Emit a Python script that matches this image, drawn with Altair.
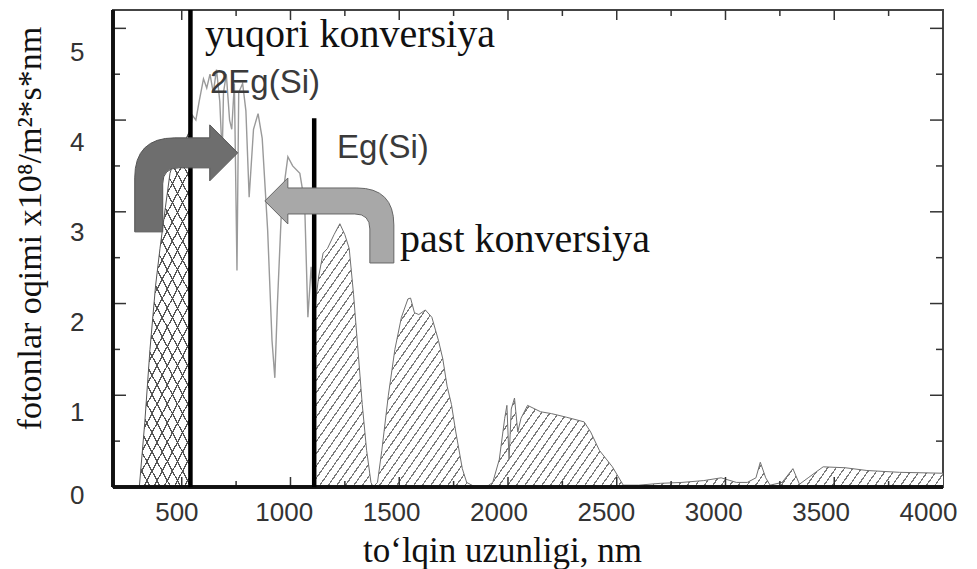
import math
import altair as alt
import pandas as pd

# ---------------- data ----------------
# hatched UV/blue part below 2Eg(Si)
uv_nm = [305, 330, 354, 380, 400, 425, 446, 470, 500, 520, 540]
uv_val = [0.0, 0.7, 1.5, 2.2, 2.6, 3.05, 3.42, 3.6, 3.7, 3.8, 3.9]

# unfilled visible / near-IR part between 2Eg(Si) and Eg(Si)
vis_nm = [540, 550, 565, 580, 600, 615, 630, 645, 660, 675, 686, 692, 705, 720, 730,
          742, 754, 762, 780, 795, 810, 830, 851, 870, 895, 915, 928, 940, 960, 988,
          1010, 1043, 1065, 1080, 1095, 1109]
vis_val = [3.9, 4.05, 4.0, 4.2, 4.45, 4.35, 4.5, 4.3, 4.55, 4.2, 3.6, 4.3, 4.5, 4.0, 3.9,
           4.4, 2.36, 4.3, 4.4, 4.1, 3.16, 3.9, 4.07, 3.8, 2.8, 1.6, 1.19, 2.0, 3.1, 3.6,
           3.5, 3.42, 3.1, 1.85, 2.4, 1.9]

# hatched IR part beyond Eg(Si)
ir_nm = [1109, 1130, 1150, 1170, 1200, 1227, 1250, 1270, 1290, 1310, 1330, 1350, 1370, 1380,
         1400, 1420, 1450, 1480, 1510, 1540, 1552, 1570, 1590, 1620, 1650, 1680, 1700, 1720,
         1740, 1760, 1790, 1810, 1850, 1900, 1930, 1960, 1985, 1995, 2005, 2015, 2030, 2045,
         2060, 2090, 2150, 2200, 2270, 2350, 2380, 2420, 2480, 2530, 2600, 2700, 2800, 2900,
         2980, 3050, 3100, 3140, 3160, 3185, 3205, 3260, 3310, 3340, 3380, 3449, 3550, 3650,
         3800, 4000]
ir_val = [1.9, 2.3, 2.55, 2.6, 2.75, 2.87, 2.75, 2.6, 2.1, 1.5, 0.9, 0.4, 0.05, 0.0,
          0.05, 0.4, 1.0, 1.5, 1.85, 2.05, 2.06, 1.9, 1.88, 1.93, 1.85, 1.6, 1.4, 1.1,
          0.9, 0.6, 0.2, 0.05, 0.0, 0.0, 0.05, 0.3, 0.75, 0.89, 0.3, 0.85, 0.97, 0.6,
          0.75, 0.89, 0.82, 0.8, 0.76, 0.71, 0.6, 0.40, 0.22, 0.02, 0.02, 0.04, 0.05, 0.07,
          0.1, 0.05, 0.05, 0.1, 0.27, 0.1, 0.02, 0.05, 0.2, 0.03, 0.1, 0.22, 0.21, 0.18,
          0.16, 0.15]

# band-gap marker lines: 2Eg(Si) and Eg(Si)
vline_nm = [540, 1109]
vline_top = [5.2, 4.02]

# annotations
serif_labels = ["yuqori konversiya", "past konversiya"]
serif_nm = [607, 1504]
serif_val = [4.80, 2.56]
sans_labels = ["2Eg(Si)", "Eg(Si)"]
sans_nm = [630, 1214]
sans_val = [4.30, 3.59]
arrow_nm = [523, 1181]
arrow_val = [3.37, 2.90]

# axes
x_labels = [500, 1000, 1500, 2000, 2500, 3000, 3500, 4000]
x_minor = [750, 1250, 1750, 2250, 2750, 3250, 3750]
x_major_ticks = [500, 1000, 1500, 2000, 2500, 3000, 3500]
y_labels = [0, 1, 2, 3, 4, 5]
y_major_ticks = [1, 2, 3, 4, 5]
y_minor = [0.5, 1.5, 2.5, 3.5, 4.5]

X_MIN, X_MAX = 184, 4000
Y_MAX = 5.2
W_PLOT, H_PLOT = 830, 477
PXN = W_PLOT / (X_MAX - X_MIN)
PXV = H_PLOT / Y_MAX

# ---------------- helpers ----------------
xs = alt.Scale(domain=[X_MIN, X_MAX], nice=False, zero=False)
ys = alt.Scale(domain=[0, Y_MAX], nice=False)

x_axis = alt.Axis(values=x_labels, format="d", title="to\u2018lqin uzunligi, nm",
                  titleFont="Liberation Serif", titleFontSize=35, titleFontWeight="normal",
                  titleColor="#111111", titleX=389, titleY=74, titleAlign="center",
                  titleBaseline="alphabetic", labelFont="Liberation Sans", labelFontSize=26,
                  labelColor="#333333", labelPadding=12,
                  labelOffset=alt.ExprRef("-4 - datum.value * 0.00275"), ticks=False,
                  domain=False, grid=False, labelFlush=False, labelOverlap=False)
y_axis = alt.Axis(values=y_labels, format="d", title="fotonlar oqimi x10\u2078/m\u00b2*s*nm",
                  titleFont="Liberation Serif", titleFontSize=34, titleFontWeight="normal",
                  titleColor="#111111", titleAngle=270, titleX=-73, titleY=218,
                  titleAlign="center", titleBaseline="alphabetic",
                  labelFont="Liberation Sans", labelFontSize=26, labelColor="#333333",
                  labelPadding=29,
                  labelOffset=alt.ExprRef("datum.value === 0 ? 8 : 16 + datum.value * 1.6"),
                  ticks=False, domain=False, grid=False,
                  labelFlush=False, labelOverlap=False)


def X(field="nm"):
    return alt.X(f"{field}:Q", scale=xs, axis=x_axis)


def Y(field="v"):
    return alt.Y(f"{field}:Q", scale=ys, axis=y_axis)


def stripes(nm, vals, angle, spacing, lw, color, bg, mirror=False):
    W = (max(nm) - min(nm)) * PXN
    H = max(vals) * PXV
    al = math.tan(math.radians(angle))
    tot = al * W + H
    m = tot / (al * al * W * W + H * H)
    a, b = W * al * m, H * m
    n = (tot / math.sqrt(al * al + 1)) / spacing
    f = lw / spacing
    stops = []
    i = 0
    while i < n:
        o0 = i / n
        o1 = min((i + f) / n, 1.0)
        o2 = min((i + 1) / n, 1.0)
        stops += [{"offset": o0, "color": color}, {"offset": o1, "color": color},
                  {"offset": o1, "color": bg}, {"offset": o2, "color": bg}]
        i += 1
    return {"gradient": "linear", "stops": stops, "x1": 0, "y1": 1 if mirror else 0,
            "x2": a, "y2": (1 - b) if mirror else b}


uv_df = pd.DataFrame({"nm": uv_nm, "v": uv_val})
vis_df = pd.DataFrame({"nm": vis_nm, "v": vis_val})
ir_df = pd.DataFrame({"nm": ir_nm, "v": ir_val})

uv_a = alt.Chart(uv_df).mark_area(
    fill=stripes(uv_nm, uv_val, 62, 9, 1.3, "#555555", "#ffffff"), strokeWidth=0
).encode(x=X(), y=Y())
uv_b = alt.Chart(uv_df).mark_area(
    fill=stripes(uv_nm, uv_val, 62, 9, 1.3, "#555555", "rgba(255,255,255,0)", mirror=True),
    strokeWidth=0
).encode(x=X(), y=Y())
ir_a = alt.Chart(ir_df).mark_area(
    fill=stripes(ir_nm, ir_val, 55, 7, 1.2, "#7a7a7a", "#ffffff"), strokeWidth=0
).encode(x=X(), y=Y())

uv_line = alt.Chart(uv_df).mark_line(color="#555555", strokeWidth=1).encode(x=X(), y=Y())
vis_line = alt.Chart(vis_df).mark_line(color="#9a9a9a", strokeWidth=1.4).encode(x=X(), y=Y())
ir_line = alt.Chart(ir_df).mark_line(color="#707070", strokeWidth=1).encode(x=X(), y=Y())

vl_df = pd.DataFrame({"nm": vline_nm, "v": [0, 0], "v2": vline_top})
vlines = alt.Chart(vl_df).mark_rule(color="#000000", strokeWidth=4.5).encode(
    x=X(), y=Y(), y2="v2:Q")

arrow_right = ("M-52,54 L-52,0 Q-52,-40 -12,-40 L23,-40 L23,-53 L51,-25 L23,3 "
               "L23,-10 L-8,-10 Q-24,-10 -24,6 L-24,54 Z")
arrow_left = ("M64,42 L64,4 Q64,-33 27,-33 L-42,-33 L-42,-43 L-65,-20 L-42,3 "
              "L-42,-7 L25,-7 Q40,-7 40,8 L40,42 Z")
a1 = alt.Chart(pd.DataFrame({"nm": arrow_nm[:1], "v": arrow_val[:1]})).mark_point(
    shape=arrow_right, size=4, filled=True, color="#6e6e6e", opacity=1,
    stroke="#555555", strokeWidth=1).encode(x=X(), y=Y())
a2 = alt.Chart(pd.DataFrame({"nm": arrow_nm[1:], "v": arrow_val[1:]})).mark_point(
    shape=arrow_left, size=4, filled=True, color="#a8a8a8", opacity=1,
    stroke="#666666", strokeWidth=1).encode(x=X(), y=Y())

serif_txt = alt.Chart(pd.DataFrame({"nm": serif_nm, "v": serif_val, "t": serif_labels})).mark_text(
    align="left", baseline="alphabetic", font="Liberation Serif", fontSize=40, color="#111111"
).encode(x=X(), y=Y(), text="t:N")
sans_txt = alt.Chart(pd.DataFrame({"nm": sans_nm, "v": sans_val, "t": sans_labels})).mark_text(
    align="left", baseline="alphabetic", font="Liberation Sans", fontSize=33, color="#3a3a3a"
).encode(x=X(), y=Y(), text="t:N")

# inward frame ticks
ymaj = pd.DataFrame({"v": y_major_ticks})
ymin = pd.DataFrame({"v": y_minor})
xmaj = pd.DataFrame({"nm": x_major_ticks})
xmin = pd.DataFrame({"nm": x_minor})
tk = dict(color="#333333", strokeWidth=1.5)
ticks = [
    alt.Chart(ymaj).mark_rule(**tk).encode(y=Y(), x=alt.value(0), x2=alt.value(13)),
    alt.Chart(ymin).mark_rule(**tk).encode(y=Y(), x=alt.value(0), x2=alt.value(7)),
    alt.Chart(ymaj).mark_rule(**tk).encode(y=Y(), x=alt.value(W_PLOT), x2=alt.value(W_PLOT - 13)),
    alt.Chart(ymin).mark_rule(**tk).encode(y=Y(), x=alt.value(W_PLOT), x2=alt.value(W_PLOT - 7)),
    alt.Chart(xmaj).mark_rule(**tk).encode(x=X(), y=alt.value(0), y2=alt.value(10)),
    alt.Chart(xmin).mark_rule(**tk).encode(x=X(), y=alt.value(0), y2=alt.value(6)),
    alt.Chart(xmaj).mark_rule(**tk).encode(x=X(), y=alt.value(H_PLOT), y2=alt.value(H_PLOT - 10)),
    alt.Chart(xmin).mark_rule(**tk).encode(x=X(), y=alt.value(H_PLOT), y2=alt.value(H_PLOT - 6)),
]

# heavier left/bottom frame edges
edges = [
    alt.Chart(ymaj).mark_rule(color="#111111", strokeWidth=3).encode(
        x=alt.value(0), y=alt.value(0), y2=alt.value(H_PLOT)),
    alt.Chart(ymaj).mark_rule(color="#111111", strokeWidth=3).encode(
        x=alt.value(0), x2=alt.value(W_PLOT), y=alt.value(H_PLOT)),
]

chart = alt.layer(
    uv_a, uv_b, ir_a, uv_line, vis_line, ir_line, *ticks, *edges, vlines, sans_txt, serif_txt,
    a1, a2
).properties(
    width=W_PLOT, height=H_PLOT,
    padding={"left": 113, "top": 10, "right": 34, "bottom": 82},
    autosize=alt.AutoSizeParams(type="none"),
    background="white",
).configure_view(stroke="#444444", strokeWidth=2)

chart.save("out.html", embed_options={"renderer": "svg", "actions": False})
